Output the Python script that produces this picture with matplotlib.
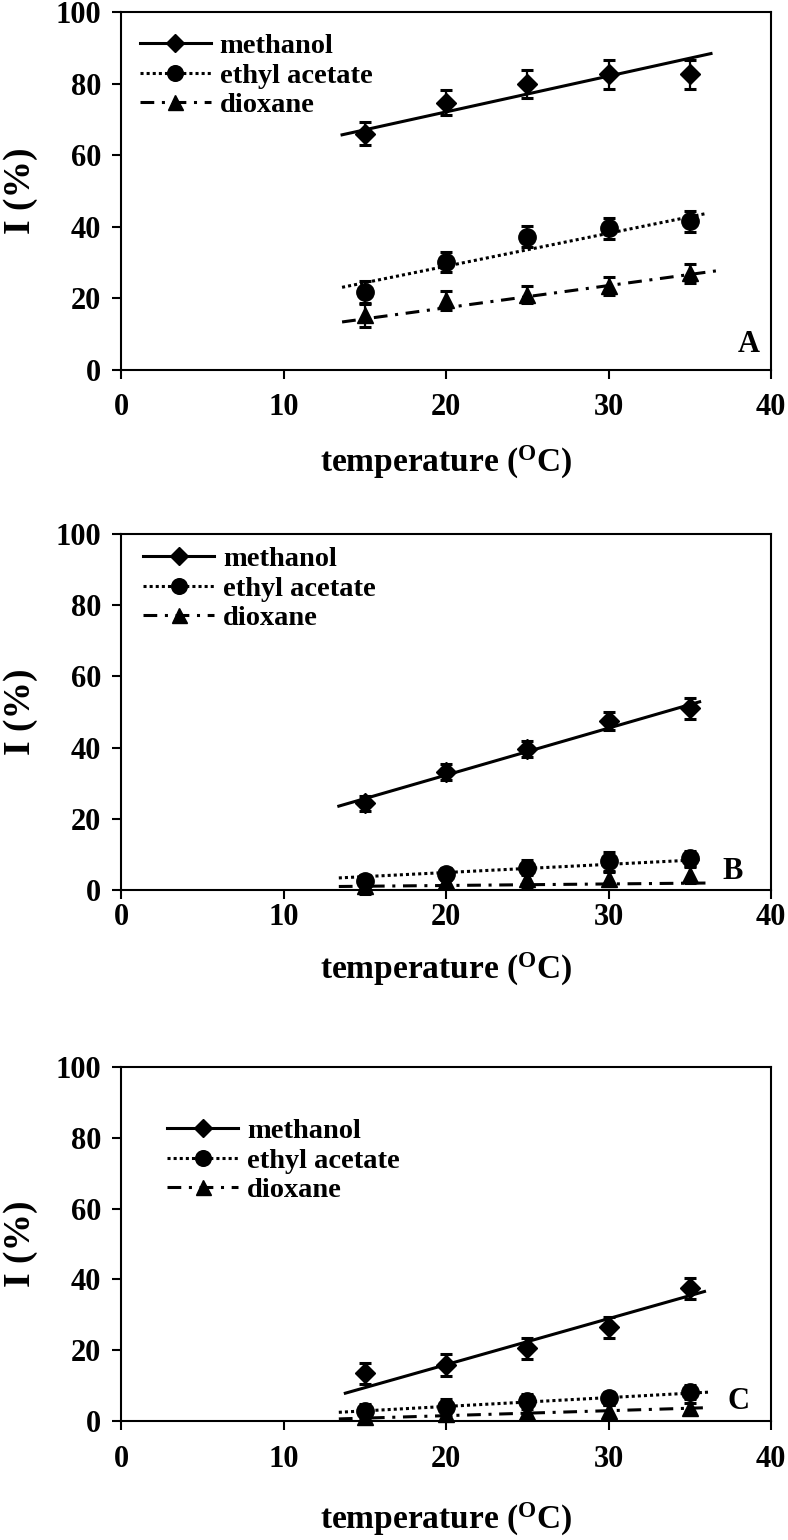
import numpy as np
import matplotlib
matplotlib.use("Agg")
import matplotlib.pyplot as plt

plt.rcParams['font.family'] = ['Liberation Serif', 'DejaVu Serif']
plt.rcParams['font.weight'] = 'bold'
plt.rcParams['mathtext.fontset'] = 'custom'
plt.rcParams['mathtext.rm'] = 'Liberation Serif:bold'
plt.rcParams['mathtext.bf'] = 'Liberation Serif:bold'

# temperatures (oC)
temps = [15, 20, 25, 30, 35]
solvents = ['methanol', 'ethyl acetate', 'dioxane']

# panel A
meth_A = [66.0, 74.7, 79.9, 82.6, 82.6]
meth_A_err = [3.2, 3.5, 3.8, 4.1, 4.1]
ea_A = [21.7, 30.2, 37.3, 39.6, 41.5]
ea_A_err = [3.2, 2.9, 2.9, 3.0, 3.0]
diox_A = [15.3, 19.5, 21.0, 23.5, 27.0]
diox_A_err = [3.4, 2.6, 2.4, 2.5, 2.6]
# trend lines: intercept, slope, x from, x to
trend_A = [(52.1, 1.00, 13.6, 36.3), (10.6, 0.92, 13.6, 36.0), (5.0, 0.62, 13.6, 36.6)]

# panel B
meth_B = [24.4, 33.2, 39.6, 47.5, 51.0]
meth_B_err = [2.1, 2.3, 2.3, 2.6, 2.9]
ea_B = [2.5, 4.5, 6.2, 8.0, 8.9]
ea_B_err = [1.7, 1.6, 2.1, 2.6, 2.1]
diox_B = [1.0, 2.6, 3.0, 3.0, 4.2]
diox_B_err = [2.2, 1.8, 2.2, 2.0, 2.2]
trend_B = [(5.86, 1.32, 13.4, 35.6), (0.3, 0.23, 13.4, 35.6), (0.4, 0.043, 13.4, 36.1)]

# panel C
meth_C = [13.5, 15.8, 20.5, 26.5, 37.5]
meth_C_err = [3.0, 3.0, 3.0, 3.0, 3.0]
ea_C = [2.8, 4.0, 5.5, 6.4, 8.1]
ea_C_err = [2.0, 2.3, 2.0, 1.9, 2.0]
diox_C = [1.0, 2.0, 2.6, 2.9, 3.7]
diox_C_err = [1.3, 1.6, 1.5, 1.5, 1.5]
trend_C = [(-10.1, 1.30, 13.8, 35.9), (-0.9, 0.25, 13.4, 36.2), (-1.3, 0.14, 13.4, 35.8)]

markers = ['D', 'o', '^']
msizes = [10, 12.5, 12]
lstyles = ['-', (0, (1, 1)), (0, (4.5, 2.5, 1, 2.5))]

panels = [
    dict(name='A', vals=[meth_A, ea_A, diox_A], errs=[meth_A_err, ea_A_err, diox_A_err],
         trend=trend_A, rect=[0.1536, 0.7597, 0.825, 0.2325], letter=(38.6, 7.0),
         leg=(0.029, 0.94), tpad=10, xlab=-0.257),
    dict(name='B', vals=[meth_B, ea_B, diox_B], errs=[meth_B_err, ea_B_err, diox_B_err],
         trend=trend_B, rect=[0.1536, 0.4221, 0.825, 0.2312], letter=(37.6, 5.1),
         leg=(0.034, 0.965), tpad=3, xlab=-0.222),
    dict(name='C', vals=[meth_C, ea_C, diox_C], errs=[meth_C_err, ea_C_err, diox_C_err],
         trend=trend_C, rect=[0.1536, 0.0773, 0.825, 0.2299], letter=(38.0, 5.4),
         leg=(0.071, 0.855), tpad=11, xlab=-0.277),
]

fig = plt.figure(figsize=(7.88, 15.40), dpi=100)

for p in panels:
    ax = fig.add_axes(p['rect'])
    for i in range(3):
        a, b, x0, x1 = p['trend'][i]
        xf = np.linspace(x0, x1, 50)
        ax.plot(xf, a + b * xf, color='black', lw=2.2, linestyle=lstyles[i], zorder=2)
        ax.errorbar(temps, p['vals'][i], yerr=p['errs'][i], fmt='none', ecolor='black',
                    elinewidth=1.6, capsize=4.5, capthick=2.2, zorder=3, clip_on=False)
        ax.plot(temps, p['vals'][i], linestyle='none', marker=markers[i], ms=msizes[i],
                color='black', zorder=4, clip_on=False)
        # legend proxy
        ax.plot([], [], color='black', lw=2.2, linestyle=lstyles[i], marker=markers[i],
                ms=msizes[i] * 0.9, label=solvents[i])

    ax.set_xlim(0, 40)
    ax.set_ylim(0, 100)
    ax.set_xticks([0, 10, 20, 30, 40])
    ax.set_yticks([0, 20, 40, 60, 80, 100])
    ax.tick_params(axis='both', direction='out', length=6.5, width=1.5, labelsize=22)
    ax.tick_params(axis='x', pad=p['tpad'])
    ax.tick_params(axis='y', pad=8)
    for s in ax.spines.values():
        s.set_linewidth(1.5)

    ax.set_xlabel(r'temperature ($\mathrm{^{O}}$C)', fontsize=24, fontweight='bold', va='center')
    ax.xaxis.set_label_coords(0.5, p['xlab'])
    ax.set_ylabel('I (%)', fontsize=27, fontweight='bold', va='center')
    ax.yaxis.set_label_coords(-0.155, 0.5)

    ax.text(p['letter'][0], p['letter'][1], p['name'], fontsize=22, fontweight='bold',
            ha='center', va='center')

    ax.legend(loc='upper left', bbox_to_anchor=p['leg'], frameon=False,
              handlelength=2.5, handletextpad=0.3, labelspacing=0.12, borderpad=0,
              borderaxespad=0, numpoints=1, prop={'weight': 'bold', 'size': 20.5})

fig.savefig('out.png', dpi=100)
